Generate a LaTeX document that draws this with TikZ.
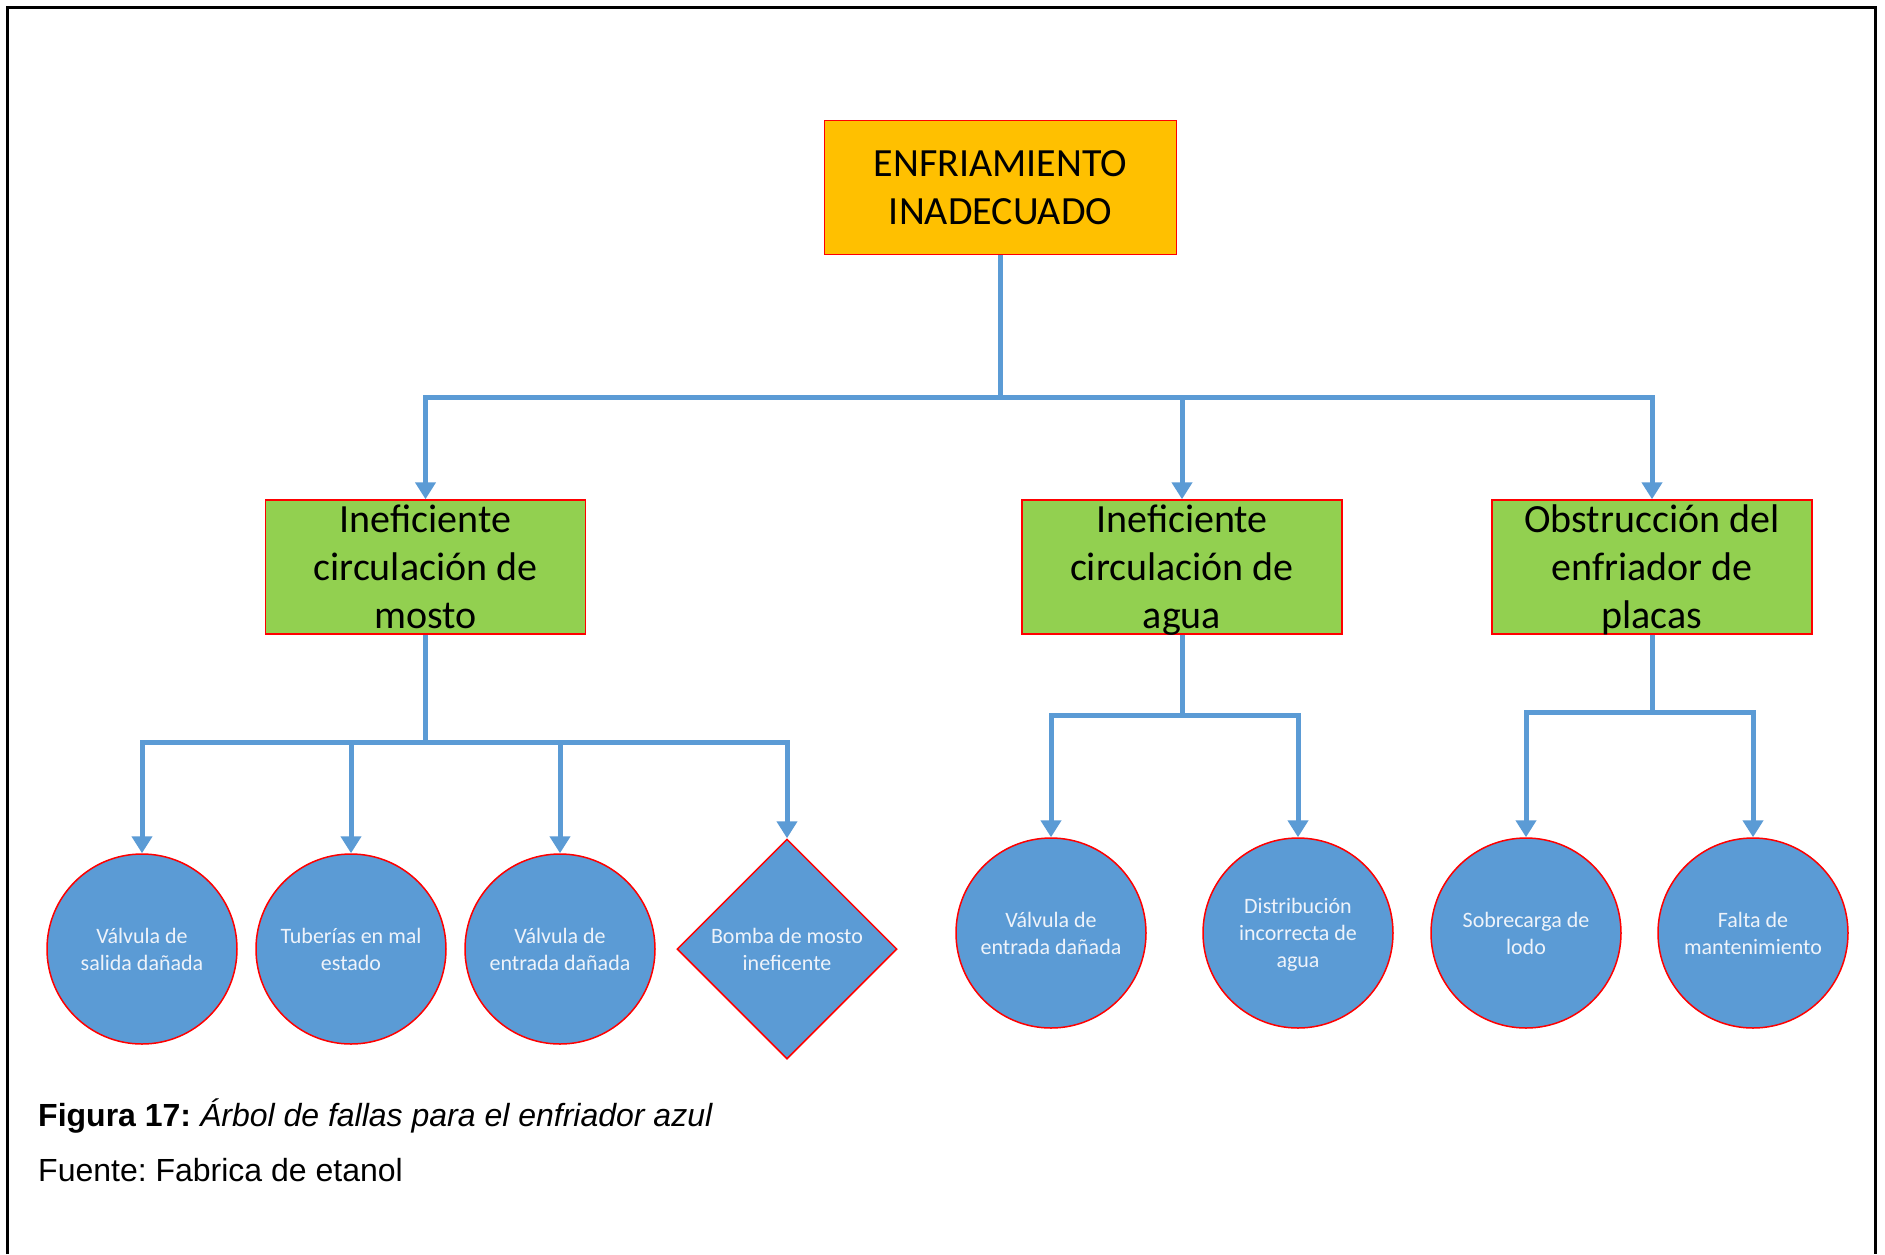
\documentclass[tikz,border=0pt]{standalone}
\usepackage{fontspec}
\setmainfont{Carlito}
\newfontfamily\capfont{Liberation Sans}
\usetikzlibrary{arrows.meta,shapes.geometric}
\definecolor{conncol}{HTML}{5B9BD5}
\definecolor{circfill}{HTML}{5B9BD5}
\definecolor{topfill}{HTML}{FFC000}
\definecolor{greenfill}{HTML}{92D050}
\definecolor{edgered}{HTML}{FF0000}
\definecolor{circtext}{HTML}{EEF3FA}
\frenchspacing
\begin{document}
\begin{tikzpicture}[x=1pt,y=-1pt,
  topbox/.style={draw=edgered,line width=1.5pt,fill=topfill,minimum width=352pt,minimum height=134pt,inner sep=0pt,align=center,font=\fontsize{40}{48}\selectfont},
  greenbox/.style={draw=edgered,line width=1.5pt,fill=greenfill,minimum width=320pt,minimum height=134pt,inner sep=0pt,align=center,font=\fontsize{40}{48}\selectfont},
  leafc/.style={circle,draw=edgered,line width=1.5pt,fill=circfill,minimum size=190pt,inner sep=0pt,align=center,text=circtext,font=\fontsize{22}{27}\selectfont},
  leafd/.style={diamond,draw=edgered,line width=1.5pt,fill=circfill,minimum width=220pt,minimum height=220pt,inner sep=0pt,align=center,text=circtext,font=\fontsize{22}{27}\selectfont},
  conn/.style={draw=conncol,line width=5pt},
  arr/.style={draw=conncol,line width=5pt,-{Triangle[width=20pt,length=17pt]}},
  captxt/.style={anchor=base west,inner sep=0pt,font=\capfont\fontsize{32}{38}\selectfont}
]
\useasboundingbox (0,0) rectangle (1885,1254);
\fill[white] (0,0) rectangle (1885,1254);
\draw[line width=3pt] (7,1254) -- (7,7) -- (1875,7) -- (1875,1254);

\node[topbox] (top) at (1000.5,187.5) {ENFRIAMIENTO\\INADECUADO};
\node[greenbox] (g1) at (425.5,567) {Ineficiente\\circulación de\\\smash{mosto}};
\node[greenbox] (g2) at (1182,567) {Ineficiente\\circulación de\\\smash{agua}};
\node[greenbox] (g3) at (1652,567) {Obstrucción del\\enfriador de\\\smash{placas}};

\node[leafc] (c1) at (142,949) {Válvula de\\salida dañada};
\node[leafc] (c2) at (351,949) {Tuberías en mal\\estado};
\node[leafc] (c3) at (560,949) {Válvula de\\entrada dañada};
\node[leafd] (d4) at (787,949) {Bomba de mosto\\ineficente};
\node[leafc] (c5) at (1051,933) {Válvula de\\entrada dañada};
\node[leafc] (c6) at (1298,933) {Distribución\\incorrecta de\\\smash{agua}};
\node[leafc] (c7) at (1526,933) {Sobrecarga de\\lodo};
\node[leafc] (c8) at (1753,933) {Falta de\\mantenimiento};

\coordinate (j0) at (1000.5,397);
\coordinate (j1) at (425.5,742);
\coordinate (j2) at (1182,715);
\coordinate (j3) at (1652,712);

\draw[conn] (top.south) -- (j0);
\draw[arr] (j0) -| (g1.north);
\draw[arr] (j0) -| (g2.north);
\draw[arr] (j0) -| (g3.north);

\draw[conn] (g1.south) -- (j1);
\draw[arr] (j1) -| (c1.north);
\draw[arr] (j1) -| (c2.north);
\draw[arr] (j1) -| (c3.north);
\draw[arr] (j1) -| (d4.north);

\draw[conn] (g2.south) -- (j2);
\draw[arr] (j2) -| (c5.north);
\draw[arr] (j2) -| (c6.north);

\draw[conn] (g3.south) -- (j3);
\draw[arr] (j3) -| (c7.north);
\draw[arr] (j3) -| (c8.north);

\node[captxt] (cap1) at (38,1126) {\textbf{Figura 17:} \textit{Árbol de fallas para el enfriador azul}};
\node[captxt] (cap2) at (38,1181) {Fuente: Fabrica de etanol};
\end{tikzpicture}
\end{document}
